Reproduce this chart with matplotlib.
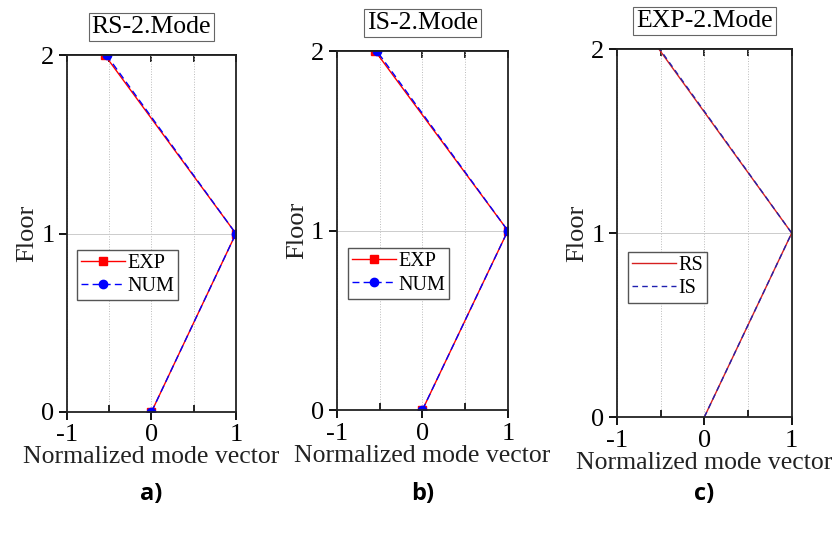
import matplotlib
matplotlib.use("Agg")
import matplotlib.pyplot as plt
from matplotlib.ticker import MultipleLocator

plt.rcParams['font.family'] = ['Liberation Serif', 'DejaVu Serif']
plt.rcParams['axes.unicode_minus'] = False

floors = [0, 1, 2]
rs_exp = [0.0, 1.0, -0.55]
rs_num = [0.0, 1.0, -0.53]
is_exp = [0.0, 1.0, -0.55]
is_num = [0.0, 1.0, -0.53]
exp_rs = [0.0, 1.0, -0.52]
exp_is = [0.0, 1.0, -0.51]

titles = ['RS-2.Mode', 'IS-2.Mode', 'EXP-2.Mode']
panel_tags = ['a)', 'b)', 'c)']

fig = plt.figure(figsize=(8.4, 5.34), dpi=100)
rects = [
    [0.0798, 0.2285, 0.201, 0.668],
    [0.401, 0.232, 0.2036, 0.672],
    [0.7345, 0.219, 0.208, 0.689],
]
legend_anchor = [(0.06, 0.454), (0.064, 0.451), (0.063, 0.448)]

for i, rect in enumerate(rects):
    ax = fig.add_axes(rect)
    if i == 0:
        ax.plot(rs_exp, floors, color='red', lw=1.0, marker='s', ms=6, label='EXP')
        ax.plot(rs_num, floors, color='blue', lw=1.0, ls=(0, (5, 3)), marker='o', ms=6, label='NUM')
    elif i == 1:
        ax.plot(is_exp, floors, color='red', lw=1.0, marker='s', ms=6, label='EXP')
        ax.plot(is_num, floors, color='blue', lw=1.0, ls=(0, (5, 3)), marker='o', ms=6, label='NUM')
    else:
        ax.plot(exp_rs, floors, color='#d62020', lw=1.0, label='RS')
        ax.plot(exp_is, floors, color='#2020b0', lw=1.0, ls=(0, (4, 3)), label='IS')

    ax.set_xlim(-1, 1)
    ax.set_ylim(0, 2)
    ax.set_xticks([-1, 0, 1])
    ax.set_yticks([0, 1, 2])
    ax.xaxis.set_minor_locator(MultipleLocator(0.5))
    ax.tick_params(axis='both', which='major', labelsize=19, direction='out', length=6, width=1.3, pad=3)
    ax.tick_params(axis='x', which='minor', direction='in', length=5, width=1.2)
    ax.tick_params(axis='y', which='both', right=False)

    # inward ticks along the top edge
    top = ax.secondary_xaxis('top')
    top.set_xticks([-1, -0.5, 0, 0.5, 1])
    top.tick_params(direction='in', length=5, width=1.2, labeltop=False)
    top.spines['top'].set_linewidth(1.3)

    ax.grid(True, which='both', axis='x', color='#bbbbbb', lw=0.7, ls=':')
    ax.grid(True, which='major', axis='y', color='#cccccc', lw=0.7, ls='-')
    for s in ax.spines.values():
        s.set_linewidth(1.3)
        s.set_color('#222222')
    ax.set_xlabel('Normalized mode vector', fontsize=18.5, labelpad=0, color='#222222')
    ax.set_ylabel('Floor', fontsize=19, labelpad=2, color='#222222')
    ax.set_title(titles[i], fontsize=18.5, pad=16,
                 bbox=dict(boxstyle='square,pad=0.12', fc='white', ec='#666666', lw=0.8))
    ax.legend(loc='upper left', bbox_to_anchor=legend_anchor[i], fontsize=14.5,
              frameon=True, fancybox=False, edgecolor='#555555', framealpha=1,
              handlelength=2.2, handletextpad=0.1, borderpad=0.2, labelspacing=0.2,
              borderaxespad=0)
    cx = rect[0] + rect[2] / 2
    fig.text(cx, 0.075, panel_tags[i], ha='center', va='center', fontsize=17,
             fontweight='bold', family='Open Sans')

fig.savefig('out.png', dpi=100)
